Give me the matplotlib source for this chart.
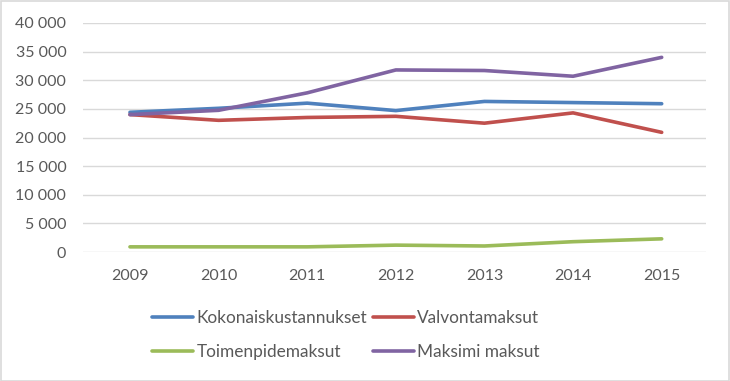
import matplotlib
matplotlib.use("Agg")
import matplotlib.pyplot as plt
from matplotlib.patches import Rectangle
from matplotlib.ticker import FuncFormatter

years = ["2009", "2010", "2011", "2012", "2013", "2014", "2015"]
kokonais = [24400, 25100, 26000, 24700, 26300, 26100, 25900]
valvonta = [24000, 23000, 23500, 23700, 22500, 24300, 20900]
toimenpide = [900, 900, 900, 1200, 1050, 1800, 2300]
maksimi = [24000, 24750, 27800, 31800, 31700, 30700, 34000]

names = ["Kokonaiskustannukset", "Valvontamaksut", "Toimenpidemaksut", "Maksimi maksut"]
colors = ["#4F81BD", "#C0504D", "#9BBB59", "#8064A2"]

plt.rcParams['font.family'] = ['Lato', 'DejaVu Sans']
text_col = "#595959"

fig = plt.figure(figsize=(7.30, 3.81), dpi=100)
ax = fig.add_axes([83/730, 1-252/381, (706-83)/730, (252-23)/381])

x = list(range(len(years)))
series = [kokonais, valvonta, toimenpide, maksimi]
lines = []
for s, c, n in zip(series, colors, names):
    ln, = ax.plot(x, s, color=c, lw=2.6, label=n, solid_capstyle='round', solid_joinstyle='round')
    lines.append(ln)

ax.set_xlim(-0.53, 6.5)
ax.set_ylim(0, 40000)
ax.set_yticks(range(0, 40001, 5000))
ax.yaxis.set_major_formatter(FuncFormatter(lambda v, p: f"{int(v):,}".replace(",", " ")))
ax.set_xticks(x)
ax.set_xticklabels(years)
ax.grid(axis='y', color="#D9D9D9", lw=1)
ax.set_axisbelow(True)
for sp in ax.spines.values():
    sp.set_visible(False)
ax.tick_params(axis='both', length=0, labelsize=11.5, colors=text_col)
ax.tick_params(axis='y', pad=12)
ax.tick_params(axis='x', pad=12)

order = [0, 2, 1, 3]
leg = fig.legend([lines[i] for i in order], [names[i] for i in order], ncol=2,
                 loc='center', bbox_to_anchor=(346/730, 1-335/381), frameon=False,
                 fontsize=12.4, handlelength=2.4, handletextpad=0.2, columnspacing=0.3,
                 labelspacing=1.05)
for t in leg.get_texts():
    t.set_color(text_col)

fig.patches.append(Rectangle((0.5/730, 0.5/381), 1-1.5/730, 1-1.5/381, transform=fig.transFigure,
                             fill=False, edgecolor="#D9D9D9", lw=1.2))

fig.savefig("out.png", dpi=100, facecolor="white")
